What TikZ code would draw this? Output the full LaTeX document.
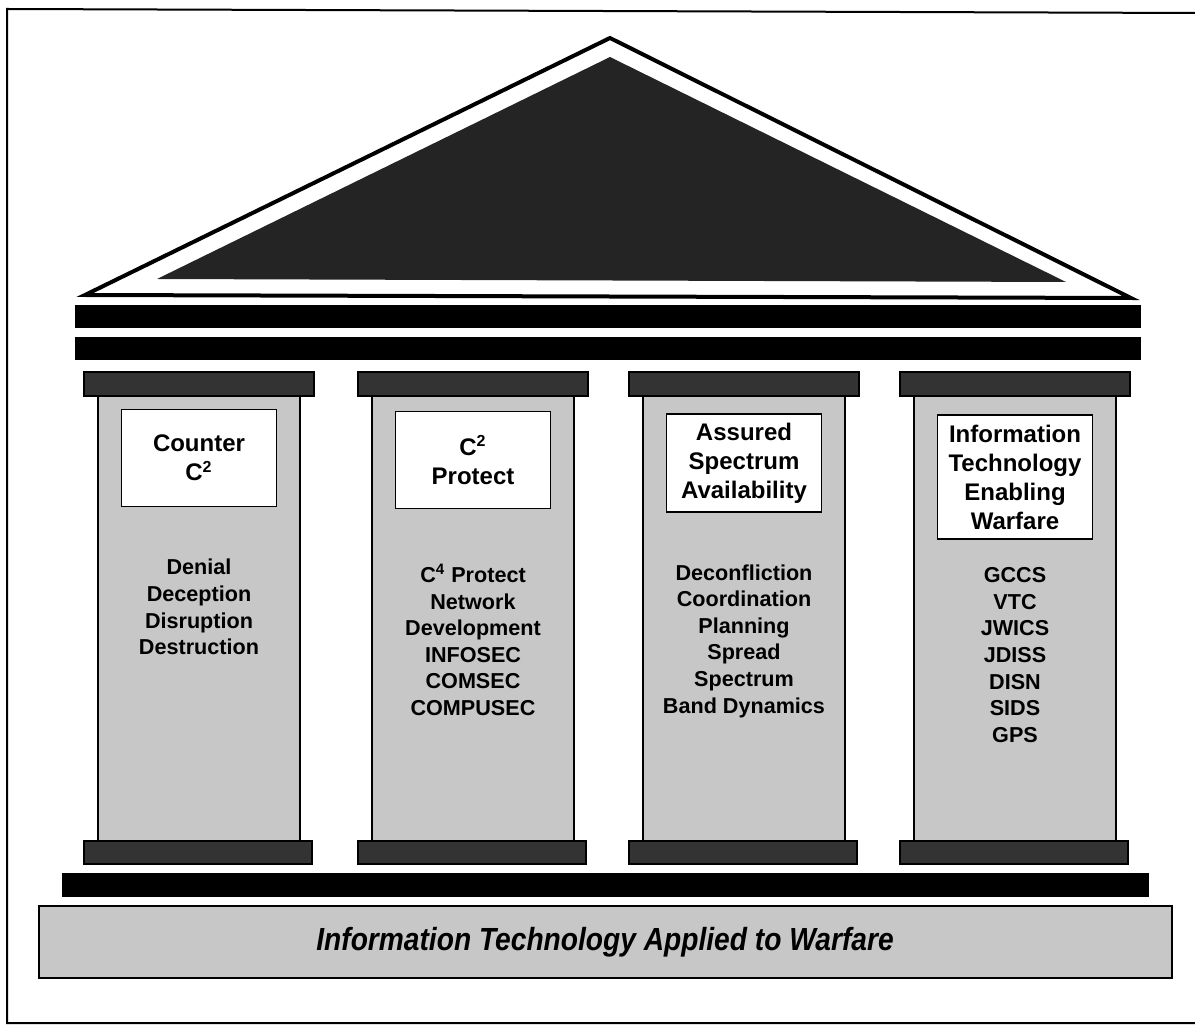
\documentclass[tikz,border=0pt]{standalone}
\usepackage{fontspec}
\setmainfont{Liberation Sans}
\newfontfamily\basefont[FakeStretch=0.88]{Liberation Sans}
\usetikzlibrary{positioning}
\tikzset{x=0.5pt, y=-0.5pt, % one unit is one pixel of the page
beam/.style={fill=black}, % the black bars
capital/.style={fill=black!80, draw=black, line width=0.8pt}, % top and foot of a column
shaft/.style={fill=black!22, draw=black, line width=0.9pt}, % the body of a column
headbox/.style={draw=black, fill=white, line width=0.8pt, minimum width=77.5pt,
  inner sep=0pt, align=center, font=\bfseries\fontsize{12}{14.5}\selectfont},
itemlist/.style={align=center, inner sep=0pt, font=\bfseries\fontsize{10.8}{13.3}\selectfont},
}

\begin{document}
\begin{tikzpicture}
  \useasboundingbox (0,0) rectangle (1195,1026);
  % frame
  \draw[line width=1pt] (1195,13) -- (7,9) -- (7,1023) -- (1195,1023);

  % roof
  \draw[line width=2pt, fill=white, line join=miter] (85,295) -- (610,38) -- (1131,298) -- cycle;
  \fill[black!86] (157,279) -- (610,57) -- (1066,282) -- cycle;
  \fill[beam] (75,305) rectangle (1141,328);
  \fill[beam] (75,337) rectangle (1141,360);

  % columns
  \foreach \cx/\head/\hy/\hh/\items/\iy [count=\i] in {
      199/{Counter\\C\textsuperscript{2}}/458/97/{Denial\\Deception\\Disruption\\Destruction}/607,
      473/{C\textsuperscript{2}\\Protect}/460/97/{C\textsuperscript{4} Protect\\Network\\Development\\INFOSEC\\COMSEC\\COMPUSEC}/640,
      744/{Assured\\Spectrum\\Availability}/463/98/{Deconfliction\\Coordination\\Planning\\Spread\\Spectrum\\Band Dynamics}/641,
      1015/{Information\\Technology\\Enabling\\Warfare}/477/124/{GCCS\\VTC\\JWICS\\JDISS\\DISN\\SIDS\\GPS}/655}{
    \draw[shaft] (\cx-101,380) rectangle (\cx+101,845);
    \draw[capital] (\cx-115,372) rectangle (\cx+115,396);
    \draw[capital] (\cx-115,841) rectangle (\cx+113,864);
    \node[headbox, minimum height=\hh*0.5pt] (head\i) at (\cx,\hy) {\head};
    \node[itemlist] (items\i) at (\cx,\iy) {\items};
  }

  % foundation
  \fill[beam] (62,873) rectangle (1149,897);
  \draw[fill=black!22, line width=1.4pt] (39,906) rectangle (1172,978);
  \node[font=\basefont\bfseries\itshape\fontsize{16}{18}\selectfont] (base) at (605,942)
    {Information Technology Applied to Warfare};
\end{tikzpicture}
\end{document}
